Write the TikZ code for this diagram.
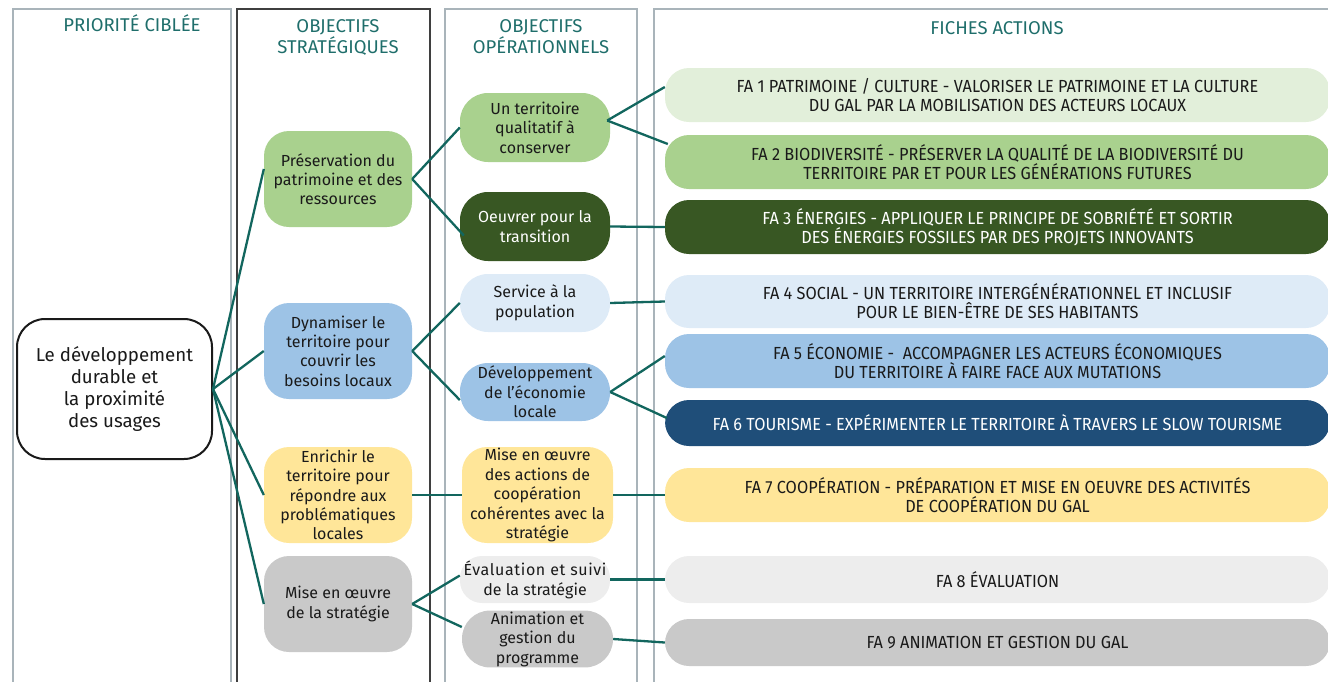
\documentclass[tikz,border=0pt]{standalone}
\usepackage{fontspec}
\setmainfont{Fira Sans}
\newfontfamily\condf[FakeStretch=0.93]{Fira Sans}
\newfontfamily\spacedf[LetterSpace=4]{Fira Sans}
\definecolor{teal}{HTML}{1F6E6B}
\definecolor{lnk}{HTML}{12665E}
\definecolor{frame}{HTML}{A9B4BA}
\definecolor{frameD}{HTML}{3F3F3F}
\definecolor{gLight}{HTML}{E2EFDA}
\definecolor{gMid}{HTML}{A9D18E}
\definecolor{gDark}{HTML}{385723}
\definecolor{bLight}{HTML}{DEEBF7}
\definecolor{bMid}{HTML}{9DC3E6}
\definecolor{bDark}{HTML}{1F4E79}
\definecolor{yel}{HTML}{FFE699}
\definecolor{grL}{HTML}{EDEDED}
\definecolor{grM}{HTML}{C9C9C9}
\definecolor{txt}{HTML}{1A1A1A}
\tikzset{
  colframe/.style={draw=frame, line width=1.5pt},
  hdr/.style={text=teal, font=\fontsize{18.5}{21}\selectfont, align=center, anchor=center},
  obj/.style={rounded corners=25pt, align=center, text=txt, inner sep=1pt,
    font=\fontsize{16}{19.3}\selectfont, minimum width=148pt, minimum height=96pt},
  op/.style={rounded corners=28pt, align=center, text=txt, inner sep=1pt,
    font=\fontsize{16}{19.5}\selectfont, minimum width=150pt},
  fa/.style={rounded corners=24pt, align=center, text=txt, inner sep=2pt,
    font=\condf\fontsize{17.5}{19}\selectfont, minimum width=665pt},
  conn/.style={draw=lnk, line width=2.3pt},
}
\begin{document}
\begin{tikzpicture}[x=1pt,y=-1pt]
\useasboundingbox (0,0) rectangle (1328,681);
% column frames
\draw[colframe] (13,700) -- (13,9) -- (231,9) -- (231,700);
\draw[draw=frameD, line width=1.5pt] (237,700) -- (237,9) -- (430,9) -- (430,700);
\draw[colframe] (445,700) -- (445,9) -- (637,9) -- (637,700);
\draw[colframe] (654,700) -- (654,9) -- (1340,9);
% headers
\node[hdr] (h1) at (132,23.5) {PRIORITÉ CIBLÉE};
\node[hdr] (h2) at (338,37) {OBJECTIFS\\STRATÉGIQUES};
\node[hdr] (h3) at (541,37) {OBJECTIFS\\OPÉRATIONNELS};
\node[hdr] (h4) at (997,28) {FICHES ACTIONS};
% priority
\node[draw=txt, line width=2pt, rounded corners=28pt, fill=white, align=center, text=txt,
  font=\fontsize{18.7}{22.3}\selectfont, minimum width=195pt, minimum height=140pt]
  (lp) at (114.5,389) {Le développement\\durable et\\la proximité\\des usages};
% strategic
\node[obj, fill=gMid] (pres) at (338,179) {Préservation du\\patrimoine et des\\ressources};
\node[obj, fill=bMid] (dyn) at (338,351) {Dynamiser le\\territoire pour\\couvrir les\\besoins locaux};
\node[obj, fill=yel] (enr) at (338,495) {Enrichir le\\territoire pour\\répondre aux\\problématiques\\locales};
\node[obj, fill=grM] (mise) at (338,604) {Mise en œuvre\\de la stratégie};
% operational
\node[op, fill=gMid, minimum height=69pt] (terr) at (535,127.5) {Un territoire\\qualitatif à\\conserver};
\node[op, fill=gDark, text=white, minimum height=69pt] (oeuv) at (535,226.5) {Oeuvrer pour la\\transition};
\node[op, fill=bLight, minimum height=58pt] (serv) at (535,303) {Service à la\\population};
\node[op, fill=bMid, minimum height=58pt] (dev) at (535,392) {Développement\\de l’économie\\locale};
\node[op, fill=yel, minimum width=151pt, minimum height=96pt, rounded corners=25pt] (coop) at (537.5,495) {Mise en œuvre\\des actions de\\coopération\\cohérentes avec la\\stratégie};
\node[op, fill=grL, minimum height=47pt, rounded corners=22pt, font=\fontsize{16}{20}\selectfont] (eval) at (535,579.5) {{\spacedf Évaluation et suivi}\\de la stratégie};
\node[op, fill=grM, minimum width=151pt, minimum height=56pt] (anim) at (537.5,639) {Animation et\\gestion du\\programme};
% fiches actions
\node[fa, fill=gLight, minimum height=54pt] (fa1) at (997.5,95) {FA 1 PATRIMOINE / CULTURE - VALORISER LE PATRIMOINE ET LA CULTURE\\DU GAL PAR LA MOBILISATION DES ACTEURS LOCAUX};
\node[fa, fill=gMid, minimum height=54pt] (fa2) at (997.5,162) {FA 2 BIODIVERSITÉ - PRÉSERVER LA QUALITÉ DE LA BIODIVERSITÉ DU\\TERRITOIRE PAR ET POUR LES GÉNÉRATIONS FUTURES};
\node[fa, fill=gDark, text=white, minimum height=54pt] (fa3) at (997.5,227) {FA 3 ÉNERGIES - APPLIQUER LE PRINCIPE DE SOBRIÉTÉ ET SORTIR\\DES ÉNERGIES FOSSILES PAR DES PROJETS INNOVANTS};
\node[fa, fill=bLight, minimum height=53pt] (fa4) at (997.5,301.5) {FA 4 SOCIAL - UN TERRITOIRE INTERGÉNÉRATIONNEL ET INCLUSIF\\POUR LE BIEN-ÊTRE DE SES HABITANTS};
\node[fa, fill=bMid, minimum height=54pt] (fa5) at (997.5,361) {FA 5 ÉCONOMIE - \ ACCOMPAGNER LES ACTEURS ÉCONOMIQUES\\DU TERRITOIRE À FAIRE FACE AUX MUTATIONS};
\node[fa, fill=bDark, text=white, minimum height=46pt] (fa6) at (997.5,423) {FA 6 TOURISME - EXPÉRIMENTER LE TERRITOIRE À TRAVERS LE SLOW TOURISME};
\node[fa, fill=yel, minimum height=54pt] (fa7) at (997.5,495) {FA 7 COOPÉRATION - PRÉPARATION ET MISE EN OEUVRE DES ACTIVITÉS\\DE COOPÉRATION DU GAL};
\node[fa, fill=grL, minimum height=47pt] (fa8) at (997.5,579.5) {FA 8 ÉVALUATION};
\node[fa, fill=grM, minimum height=47pt] (fa9) at (997.5,642.5) {FA 9 ANIMATION ET GESTION DU GAL};
% connectors
\draw[conn] (lp.east) -- ([yshift=10pt]pres.west);
\draw[conn] (lp.east) -- (dyn.west);
\draw[conn] (lp.east) -- (enr.west);
\draw[conn] (lp.east) -- (mise.west);
\draw[conn] (pres.east) -- (terr.west);
\draw[conn] (pres.east) -- ([xshift=4pt,yshift=-9pt]oeuv.west);
\draw[conn] (dyn.east) -- (serv.west);
\draw[conn] (dyn.east) -- ([yshift=-8pt]dev.west);
\draw[conn] (enr.east) -- (coop.west);
\draw[conn] (mise.east) -- ([yshift=4pt]eval.west);
\draw[conn] (mise.east) -- ([yshift=12pt]anim.west);
\draw[conn] ([xshift=-3pt,yshift=7pt]terr.east) -- ([yshift=8pt]fa1.west);
\draw[conn] ([xshift=-3pt,yshift=7pt]terr.east) -- ([xshift=3pt,yshift=18pt]fa2.west);
\draw[conn] (oeuv.east) -- (fa3.west);
\draw[conn] (serv.east) -- (fa4.west);
\draw[conn] (dev.east) -- ([yshift=5pt]fa5.west);
\draw[conn] (dev.east) -- ([xshift=2pt,yshift=5pt]fa6.west);
\draw[conn] (coop.east) -- (fa7.west);
\draw[conn] (eval.east) -- (fa8.west);
\draw[conn] (anim.east) -- (fa9.west);
\end{tikzpicture}
\end{document}
